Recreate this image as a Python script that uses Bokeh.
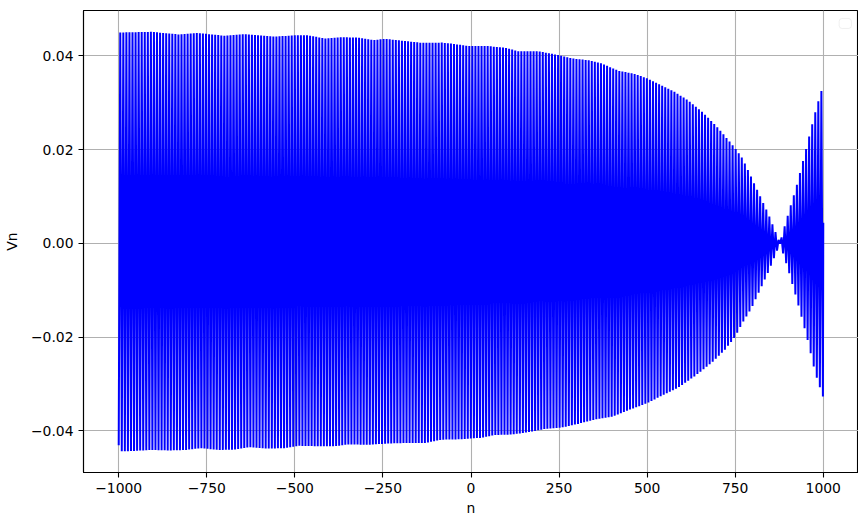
import numpy as np
from bokeh.plotting import figure
from bokeh.models import FixedTicker, Range1d, BoxAnnotation
from bokeh.embed import file_html
from bokeh.resources import INLINE

# ---- data ----
# upper envelope of Vn (peak values) at sample positions n
upper_n = [-1000, -907, -831, -775, -699, -642, -557, -500, -462, -414, -367, -320,
           -277, -244, -188, -140, -83, -45, -7, 26, 49, 97, 135, 191, 248, 286,
           333, 371, 418, 466, 500, 542, 580, 617, 655, 693, 722, 750, 771, 797,
           845, 877, 889, 906, 923, 940, 957, 974, 993, 1000]
upper_v = [0.0450, 0.04515, 0.0446, 0.0449, 0.0443, 0.04466, 0.0441, 0.04444, 0.0444,
           0.04373, 0.0440, 0.0439, 0.04338, 0.04366, 0.0432, 0.0428, 0.04285, 0.04253,
           0.0421, 0.0421, 0.0421, 0.04174, 0.0410, 0.0410, 0.0402, 0.03947, 0.0391,
           0.0384, 0.03685, 0.03615, 0.0352, 0.03366, 0.03224, 0.03047, 0.02813, 0.0253,
           0.0228, 0.0203, 0.0181, 0.0139, 0.0061, 0.0, 0.0033, 0.0077, 0.0119, 0.0168,
           0.0219, 0.0271, 0.0322, 0.0335]
# lower envelope of Vn (trough values)
lower_n = [-1000, -997, -954, -907, -860, -812, -765, -718, -670, -632, -575, -528,
           -490, -433, -386, -348, -291, -234, -178, -130, -83, -26, 28, 68, 116, 163,
           210, 258, 305, 352, 400, 447, 500, 542, 590, 636, 684, 722, 750, 768, 797,
           845, 877, 900, 925, 954, 977, 999]
lower_v = [-0.0431, -0.0444, -0.0443, -0.04407, -0.0442, -0.0441, -0.0437, -0.0441,
           -0.0440, -0.0435, -0.0438, -0.0437, -0.0432, -0.0433, -0.0433, -0.0429,
           -0.0430, -0.0427, -0.0426, -0.0426, -0.0419, -0.0418, -0.0415, -0.0409,
           -0.0408, -0.0403, -0.0396, -0.0393, -0.0385, -0.0376, -0.0370, -0.0356,
           -0.0341, -0.0325, -0.0307, -0.0283, -0.0254, -0.0226, -0.0199, -0.0173,
           -0.0137, -0.0059, 0.0, -0.0055, -0.0120, -0.0201, -0.0276, -0.0327]
half_periods = 460          # number of up/down strokes between n=-1000 and n=999
end_point = (1000, 0.0044)  # last sample

x_ticks = [-1000, -750, -500, -250, 0, 250, 500, 750, 1000]
x_tick_labels = ["\u22121000", "\u2212750", "\u2212500", "\u2212250", "0", "250", "500", "750", "1000"]
y_ticks = [-0.04, -0.02, 0.0, 0.02, 0.04]
y_tick_labels = ["\u22120.04", "\u22120.02", "0.00", "0.02", "0.04"]

# ---- build the oscillating trace (alternating troughs / peaks) ----
pos = np.linspace(lower_n[0], lower_n[-1], half_periods + 1)
vals = np.where(np.arange(half_periods + 1) % 2 == 0,
                np.interp(pos, lower_n, lower_v),
                np.interp(pos, upper_n, upper_v))
xs = np.append(pos, end_point[0])
ys = np.append(vals, end_point[1])

FONT = "DejaVu Sans"
FS = "13.9px"

p = figure(frame_width=775, frame_height=462, output_backend="svg", toolbar_location=None,
           x_range=Range1d(-1100, 1100), y_range=Range1d(-0.0489, 0.0497),
           min_border_left=75, min_border_right=0, min_border_top=10, min_border_bottom=45,
           background_fill_color="white", border_fill_color="white")

p.line(xs, ys, line_color="#0000ff", line_width=2.0)

p.outline_line_color="black"
p.outline_line_width = 1.1
p.outline_line_alpha = 1

for ax in (p.xaxis[0], p.yaxis[0]):
    ax.major_label_text_font = FONT
    ax.major_label_text_font_size = FS
    ax.major_label_text_color = "black"
    ax.axis_label_text_font = FONT
    ax.axis_label_text_font_size = FS
    ax.axis_label_text_font_style = "normal"
    ax.axis_label_text_color = "black"
    ax.major_tick_out = 5
    ax.major_tick_in = 0
    ax.minor_tick_out = 0
    ax.minor_tick_in = 0
    ax.major_tick_line_color = "black"
    ax.major_tick_line_width = 1.1
    ax.axis_line_color = "black"
    ax.axis_line_width = 1.1
    ax.major_label_standoff = 5

p.xaxis.ticker = FixedTicker(ticks=x_ticks)
p.xaxis.major_label_overrides = {t: l for t, l in zip(x_ticks, x_tick_labels)}
p.yaxis.ticker = FixedTicker(ticks=y_ticks)
p.yaxis.major_label_overrides = {t: l for t, l in zip(y_ticks, y_tick_labels)}
p.xaxis.axis_label = "n"
p.yaxis.axis_label = "Vn"
p.xaxis.axis_label_standoff = 4
p.yaxis.axis_label_standoff = 8

for g in (p.xgrid[0], p.ygrid[0]):
    g.grid_line_color = "#b0b0b0"
    g.grid_line_width = 1.1
    g.grid_line_alpha = 1

# empty legend frame, as in the reference (legend drawn with no labelled artists)
p.add_layout(BoxAnnotation(left=1045, right=1080, top=0.0480, bottom=0.04586,
                           fill_color="white", fill_alpha=0.8,
                           line_color="#cccccc", line_width=1, border_radius=3))

open("out.html", "w").write(file_html(p, INLINE))
